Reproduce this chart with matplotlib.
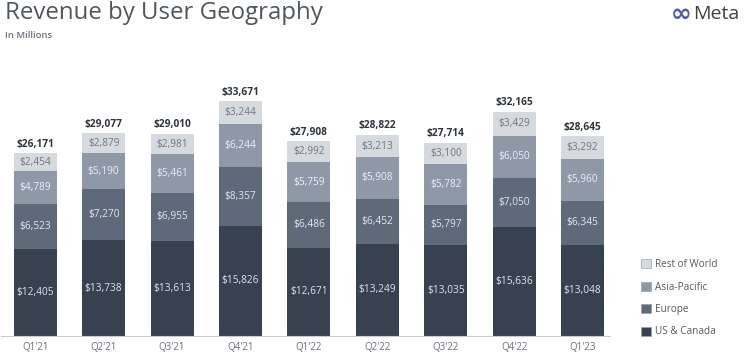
import matplotlib.pyplot as plt
from matplotlib.patches import Patch

# DATA (in millions)
quarters = ["Q1'21", "Q2'21", "Q3'21", "Q4'21", "Q1'22", "Q2'22", "Q3'22", "Q4'22", "Q1'23"]
us_canada = [12405, 13738, 13613, 15826, 12671, 13249, 13035, 15636, 13048]
europe = [6523, 7270, 6955, 8357, 6486, 6452, 5797, 7050, 6345]
asia_pacific = [4789, 5190, 5461, 6244, 5759, 5908, 5782, 6050, 5960]
rest_of_world = [2454, 2879, 2981, 3244, 2992, 3213, 3100, 3429, 3292]
totals = [26171, 29077, 29010, 33671, 27908, 28822, 27714, 32165, 28645]

series = [
    ("US & Canada", us_canada, "#37414f", "#dfe3e8"),
    ("Europe", europe, "#5e6979", "#e4e7eb"),
    ("Asia-Pacific", asia_pacific, "#8f98a7", "#eef0f3"),
    ("Rest of World", rest_of_world, "#d6d9de", "#6f7783"),
]

FONT = ["Open Sans", "DejaVu Sans"]
W, H = 750, 356

fig = plt.figure(figsize=(7.5, 3.56), dpi=100)
ax = fig.add_axes([1 / W, 20 / H, 609 / W, 279 / H])

x = list(range(len(quarters)))
bottom = [0] * len(quarters)
for name, vals, color, txtcolor in series:
    ax.bar(x, vals, width=0.63, bottom=bottom, color=color, edgecolor="none")
    for i, v in enumerate(vals):
        ax.text(i, bottom[i] + v / 2, f"${v:,}", ha="center", va="center",
                fontsize=7.3, color=txtcolor, family=FONT)
    bottom = [b + v for b, v in zip(bottom, vals)]

for i, t in enumerate(totals):
    ax.text(i, bottom[i] + 500, f"${t:,}", ha="center", va="bottom",
            fontsize=7.3, color="#2f353d", fontweight="bold", family=FONT)

ax.set_xlim(-0.5, 8.4)
ax.set_ylim(0, 40000)
ax.set_xticks(x)
ax.set_xticklabels(quarters, fontsize=7, color="#6a7079", family=FONT)
ax.tick_params(axis="x", length=0, pad=4)
ax.set_yticks([])
for s in ["top", "right", "left"]:
    ax.spines[s].set_visible(False)
ax.spines["bottom"].set_color("#c8ccd2")
ax.spines["bottom"].set_linewidth(0.8)

# titles
fig.text(5 / W, 1 - 13 / H, "Revenue by User Geography", fontsize=17.3,
         color="#50565e", family=FONT, va="center", ha="left")
fig.text(5 / W, 1 - 35 / H, "In Millions", fontsize=6.8, color="#6a7079",
         family=FONT, va="center", ha="left", fontweight="semibold")

# Meta logo
fig.text(681 / W, 1 - 14 / H, "\u221e", fontsize=18, color="#4d57b8",
         family=["DejaVu Sans"], va="center", ha="center", fontweight="bold")
fig.text(693 / W, 1 - 14 / H, "Meta", fontsize=14, color="#3c4148",
         family=FONT, va="center", ha="left")

# legend
handles = [Patch(facecolor=c, edgecolor="#9aa1ab", linewidth=0.5, label=n)
           for n, _, c, _ in reversed(series)]
fig.legend(handles=handles, loc="upper left",
           bbox_to_anchor=(632 / W, 1 - 250 / H), frameon=False,
           labelcolor="#555b63", handlelength=1.0,
           handleheight=1.0, handletextpad=0.4, labelspacing=1.15,
           prop={"family": FONT, "size": 7.2})

fig.savefig("out.png", dpi=100)
